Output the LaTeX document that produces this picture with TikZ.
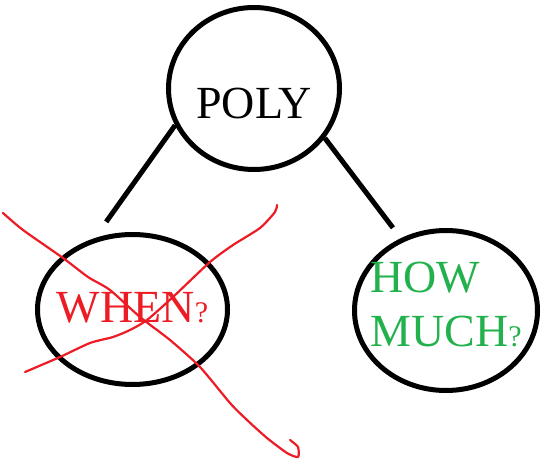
\documentclass[tikz,border=0pt]{standalone}
\usepackage{fontspec}
\setmainfont{Liberation Serif}
\usetikzlibrary{shapes.geometric}
\definecolor{paintred}{RGB}{237,28,36}
\definecolor{paintgreen}{RGB}{34,177,76}

\begin{document}
\begin{tikzpicture}[x=1pt, y=-1pt,
		bubble/.style={ellipse, draw=black, line width=5pt, inner sep=0pt},
		word/.style={font=\fontsize{46}{54}\selectfont, inner sep=0pt},
		link/.style={line width=5pt},
		cross/.style={paintred, line width=2.2pt, line cap=round, line join=round},
	]
	\useasboundingbox (0,0) rectangle (550,460);
	\node [bubble, minimum width=171pt, minimum height=162pt,
		label={[word, yshift=-15pt]center:POLY}] (poly) at (254,88.5) {};
	\node [bubble, minimum width=190pt, minimum height=150pt,
		label={[word, text=paintred, yshift=2pt]center:WHEN{\fontsize{30}{30}\selectfont ?}}] (when) at (132.5,309.5) {};
	\node [bubble, minimum width=183pt, minimum height=160pt,
		label={[word, text=paintgreen, align=left, yshift=6pt]center:HOW\\MUCH{\fontsize{30}{30}\selectfont ?}}] (howmuch) at (446,310.5) {};

	\draw[link, shorten >=20pt] (poly.205) to (when.118);
	\draw[link, shorten >=13pt] (poly.-35) to (howmuch.122);

	% crossed out
	\draw[cross] plot[smooth, tension=0.4] coordinates {(3,213) (23,230) (63,258) (88,277) (110,290) (140,317) (170,340) (200,367) (230,403) (247,420) (267,438) (287,453) (298,457) (298,447) (290,440)};
	\draw[cross] plot[smooth, tension=0.4] coordinates {(25,372) (60,357) (90,343) (113,337) (130,330) (147,320) (173,297) (210,262) (233,245) (260,228) (275,212) (277,205)};
\end{tikzpicture}
\end{document}
